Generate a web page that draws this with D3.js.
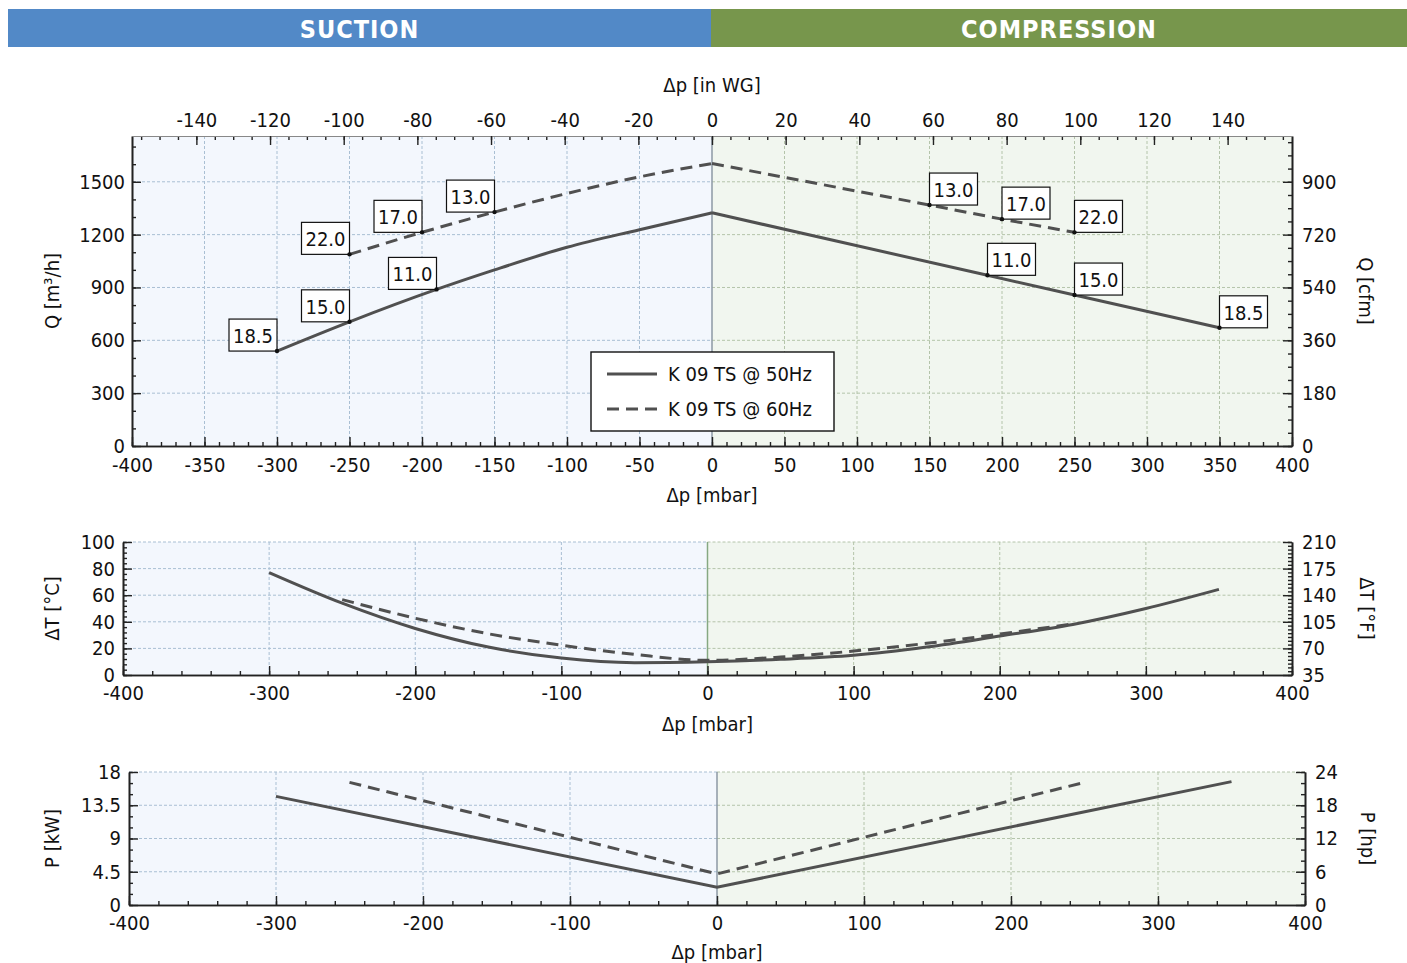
<!DOCTYPE html>
<html>
<head>
<meta charset="utf-8">
<script src="https://cdn.jsdelivr.net/npm/d3@7"></script>
<style>
  body { margin: 0; background: #fff; }
  svg text { font-family: "DejaVu Sans Condensed", "DejaVu Sans", sans-serif; }
</style>
</head>
<body>
<svg id="chart" width="1407" height="963"></svg>
<script>
// ---- data ----
// flow Q [m3/h] vs dp [mbar]
const q50SuctionDp = [-300, -250, -190, -150, -100, -50, 0];
const q50Suction   = [539, 705, 889, 1000, 1128, 1228, 1324];
const q50CompDp    = [0, 190, 250, 350];
const q50Comp      = [1324, 969, 857, 671];
const q60SuctionDp = [-250, -200, -150, -100, -50, 0];
const q60Suction   = [1088, 1213, 1328, 1434, 1528, 1604];
const q60CompDp    = [0, 150, 200, 250];
const q60Comp      = [1604, 1368, 1288, 1213];

// motor size labels [kW]
const motor50Dp = [-300, -250, -190, 190, 250, 350];
const motor50Kw = ["18.5", "15.0", "11.0", "11.0", "15.0", "18.5"];
const motor60Dp = [-250, -200, -150, 150, 200, 250];
const motor60Kw = ["22.0", "17.0", "13.0", "13.0", "17.0", "22.0"];

// temperature rise dT [degC]
const t50Dp = [-300, -250, -200, -150, -100, -50, 0, 50, 100, 150, 200, 250, 300, 350];
const t50   = [77, 54, 35, 21, 12.7, 9.3, 10, 11.8, 14.8, 21, 29.3, 38, 50, 64.4];
const t60Dp = [-250, -200, -150, -100, -50, 0, 50, 100, 150, 200, 250];
const t60   = [56.7, 42.7, 31, 22.4, 15.5, 11, 13.5, 18, 23.8, 30.8, 38.4];

// power P [kW]
const p50Dp = [-300, 0, 350];
const p50   = [14.7, 2.4, 16.7];
const p60Dp = [-250, 0, 250];
const p60   = [16.6, 4.2, 16.6];

const seriesNames = ["K 09 TS @ 50Hz", "K 09 TS @ 60Hz"];
const sideNames = ["SUCTION", "COMPRESSION"];

// unit factors used by the secondary axes
const MBAR_PER_INWG = 2.54;
const CFM_PER_M3H = 0.6;

// ---- styles ----
const BLUE_BG = "#f3f7fd", GREEN_BG = "#f1f6ef";
const BLUE_GRID = "#a9bfd3", GREEN_GRID = "#b4c4aa";
const INK = "#222", LINE = "#505050";
const DASH = "12,7";

const svg = d3.select("#chart");

// header bars
const hx = d3.scaleLinear().domain([0, 1, 2]).range([8, 711, 1407]);
svg.selectAll("rect.hdr").data(sideNames).join("rect")
  .attr("class", "hdr")
  .attr("x", (d, i) => hx(i)).attr("y", 9)
  .attr("width", (d, i) => hx(i + 1) - hx(i)).attr("height", 38)
  .attr("fill", (d, i) => i ? "#77964c" : "#5289c7");
svg.selectAll("text.hdr").data(sideNames).join("text")
  .attr("class", "hdr")
  .attr("x", (d, i) => (hx(i) + hx(i + 1)) / 2).attr("y", 29)
  .attr("text-anchor", "middle").attr("dominant-baseline", "central")
  .attr("fill", "#fff").attr("font-size", 25).attr("font-weight", "bold")
  .attr("letter-spacing", 1)
  .text(d => d);

const range = (a, b, s) => d3.range(a, b + s / 2, s).map(v => +v.toFixed(4));
const fmt = v => String(+v.toFixed(2));

function styleAxis(sel) {
  sel.attr("font-family", null).attr("font-size", 20);
  sel.select(".domain").attr("stroke", INK).attr("stroke-width", 1.6);
  sel.selectAll(".tick line").attr("stroke", INK).attr("stroke-width", 1.4);
  sel.selectAll(".tick text").attr("fill", "#111");
}

function drawPanel(p) {
  const x = d3.scaleLinear().domain([-400, 400]).range([p.left, p.right]);
  const y = d3.scaleLinear().domain(p.yDomain).range([p.bottom, p.top]);
  const y2 = d3.scaleLinear().domain(p.y2Domain).range([p.bottom, p.top]);
  const g = svg.append("g");

  // suction / compression backgrounds
  g.append("rect").attr("x", x(-400)).attr("y", p.top)
    .attr("width", x(0) - x(-400)).attr("height", p.bottom - p.top).attr("fill", BLUE_BG);
  g.append("rect").attr("x", x(0)).attr("y", p.top)
    .attr("width", x(400) - x(0)).attr("height", p.bottom - p.top).attr("fill", GREEN_BG);

  // grid
  const gx = p.xTicks.filter(v => v > -400 && v < 400 && v !== 0);
  g.selectAll("line.gx").data(gx).join("line")
    .attr("x1", d => x(d)).attr("x2", d => x(d))
    .attr("y1", p.top).attr("y2", p.bottom)
    .attr("stroke", d => d < 0 ? BLUE_GRID : GREEN_GRID)
    .attr("stroke-width", 1).attr("stroke-dasharray", "3,2");
  const gy = p.yTicks.filter(v => v > p.yDomain[0]);
  [[-400, 0, BLUE_GRID], [0, 400, GREEN_GRID]].forEach(([a, b, c]) => {
    g.selectAll(null).data(gy).join("line")
      .attr("x1", x(a)).attr("x2", x(b))
      .attr("y1", d => y(d)).attr("y2", d => y(d))
      .attr("stroke", c).attr("stroke-width", 1).attr("stroke-dasharray", "3,2");
  });
  g.append("line").attr("x1", x(0)).attr("x2", x(0))
    .attr("y1", p.top).attr("y2", p.bottom)
    .attr("stroke", p.zeroColor).attr("stroke-width", 1.5);

  // axes: bottom
  const xb = g.append("g").attr("transform", `translate(0,${p.bottom})`)
    .call(d3.axisBottom(x).tickValues(p.xMinor).tickSize(-4).tickSizeOuter(0).tickFormat(""));
  styleAxis(xb);
  const xa = g.append("g").attr("transform", `translate(0,${p.bottom})`)
    .call(d3.axisBottom(x).tickValues(p.xTicks).tickSize(-9).tickSizeOuter(0)
      .tickPadding(p.xPad).tickFormat(fmt));
  styleAxis(xa);

  // left
  const yl0 = g.append("g").attr("transform", `translate(${p.left},0)`)
    .call(d3.axisLeft(y).tickValues(p.yMinor).tickSize(-4).tickSizeOuter(0).tickFormat(""));
  styleAxis(yl0);
  const yl = g.append("g").attr("transform", `translate(${p.left},0)`)
    .call(d3.axisLeft(y).tickValues(p.yTicks).tickSize(-9).tickSizeOuter(0)
      .tickPadding(p.yPad).tickFormat(fmt));
  styleAxis(yl);

  // right
  const yr0 = g.append("g").attr("transform", `translate(${p.right},0)`)
    .call(d3.axisRight(y2).tickValues(p.y2Minor).tickSize(-4).tickSizeOuter(0).tickFormat(""));
  styleAxis(yr0);
  const yr = g.append("g").attr("transform", `translate(${p.right},0)`)
    .call(d3.axisRight(y2).tickValues(p.y2Ticks).tickSize(-9).tickSizeOuter(0)
      .tickPadding(p.y2Pad).tickFormat(fmt));
  styleAxis(yr);

  // titles
  g.append("text").attr("x", (p.left + p.right) / 2).attr("y", p.xTitleY)
    .attr("text-anchor", "middle").attr("dominant-baseline", "central")
    .attr("font-size", 20).attr("fill", "#111").text("Δp [mbar]");
  const cy = (p.top + p.bottom) / 2;
  g.append("text").attr("transform", `translate(52,${cy}) rotate(-90)`)
    .attr("text-anchor", "middle").attr("dominant-baseline", "central")
    .attr("font-size", 20).attr("fill", "#111").text(p.yTitle);
  g.append("text").attr("transform", `translate(${p.y2TitleX},${cy}) rotate(90)`)
    .attr("text-anchor", "middle").attr("dominant-baseline", "central")
    .attr("font-size", 20).attr("fill", "#111").text(p.y2Title);

  return { x, y, g };
}

function drawLine(pn, dp, vals, dashed, curve) {
  const pts = dp.map((d, i) => [d, vals[i]]);
  pn.g.append("path").datum(pts)
    .attr("fill", "none").attr("stroke", LINE).attr("stroke-width", 3)
    .attr("stroke-dasharray", dashed ? DASH : null)
    .attr("d", d3.line().x(d => pn.x(d[0])).y(d => pn.y(d[1])).curve(curve || d3.curveMonotoneX));
}

// ---------- panel 1: flow ----------
const flowP = drawPanel({
  left: 132, right: 1292, top: 136, bottom: 446,
  yDomain: [0, 1760], y2Domain: [0, 1760 * CFM_PER_M3H],
  xTicks: range(-400, 400, 50), xMinor: range(-400, 400, 10),
  yTicks: range(0, 1500, 300), yMinor: range(0, 1700, 100),
  y2Ticks: range(0, 900, 180), y2Minor: range(0, 1035, 45),
  xPad: 12, yPad: 7, y2Pad: 10,
  xTitleY: 495, yTitle: "Q [m³/h]", y2Title: "Q [cfm]", y2TitleX: 1366,
  zeroColor: "#8c99a4"
});
// top axis in inches of water gauge
const xw = d3.scaleLinear().domain([-400 / MBAR_PER_INWG, 400 / MBAR_PER_INWG]).range([132, 1292]);
const xt0 = flowP.g.append("g").attr("transform", "translate(0,136)")
  .call(d3.axisTop(xw).tickValues(range(-155, 155, 5)).tickSize(-4).tickSizeOuter(0).tickFormat(""));
styleAxis(xt0);
xt0.select(".domain").attr("stroke", "#888").attr("stroke-width", 1);
const xt = flowP.g.append("g").attr("transform", "translate(0,136)")
  .call(d3.axisTop(xw).tickValues(range(-140, 140, 20)).tickSize(-9).tickSizeOuter(0).tickPadding(9).tickFormat(fmt));
styleAxis(xt);
xt.select(".domain").attr("stroke", "#888").attr("stroke-width", 1);
flowP.g.append("text").attr("x", 712).attr("y", 85)
  .attr("text-anchor", "middle").attr("dominant-baseline", "central")
  .attr("font-size", 20).attr("fill", "#111").text("Δp [in WG]");

drawLine(flowP, q50SuctionDp, q50Suction, false);
drawLine(flowP, q50CompDp, q50Comp, false, d3.curveLinear);
drawLine(flowP, q60SuctionDp, q60Suction, true);
drawLine(flowP, q60CompDp, q60Comp, true, d3.curveLinear);

// motor labels
function qAt(dpArr1, v1, dpArr2, v2, dp) {
  const all = dpArr1.map((d, i) => [d, v1[i]]).concat(dpArr2.map((d, i) => [d, v2[i]]));
  return all.find(e => e[0] === dp)[1];
}
const labels = motor50Dp.map((d, i) => ({ dp: d, q: qAt(q50SuctionDp, q50Suction, q50CompDp, q50Comp, d), t: motor50Kw[i] }))
  .concat(motor60Dp.map((d, i) => ({ dp: d, q: qAt(q60SuctionDp, q60Suction, q60CompDp, q60Comp, d), t: motor60Kw[i] })));
const BW = 48, BH = 32;
const lab = flowP.g.selectAll("g.lab").data(labels).join("g").attr("class", "lab")
  .attr("transform", d => `translate(${flowP.x(d.dp) - (d.dp < 0 ? BW : 0)},${flowP.y(d.q) - BH})`);
lab.append("rect").attr("width", BW).attr("height", BH)
  .attr("fill", "#fff").attr("stroke", "#111").attr("stroke-width", 1.2);
lab.append("text").attr("x", BW / 2).attr("y", BH / 2 + 1)
  .attr("text-anchor", "middle").attr("dominant-baseline", "central")
  .attr("font-size", 20).attr("fill", "#111").text(d => d.t);
flowP.g.selectAll("circle.pt").data(labels).join("circle").attr("class", "pt")
  .attr("cx", d => flowP.x(d.dp)).attr("cy", d => flowP.y(d.q)).attr("r", 2.2).attr("fill", "#111");

// legend
const lg = flowP.g.append("g").attr("transform", "translate(591,352)");
lg.append("rect").attr("width", 243).attr("height", 79)
  .attr("fill", "#fff").attr("stroke", "#111").attr("stroke-width", 1.4);
lg.selectAll("line").data(seriesNames).join("line")
  .attr("x1", 16).attr("x2", 66)
  .attr("y1", (d, i) => 22 + i * 35).attr("y2", (d, i) => 22 + i * 35)
  .attr("stroke", LINE).attr("stroke-width", 3)
  .attr("stroke-dasharray", (d, i) => i ? DASH : null);
lg.selectAll("text").data(seriesNames).join("text")
  .attr("x", 77).attr("y", (d, i) => 22 + i * 35)
  .attr("dominant-baseline", "central").attr("font-size", 20).attr("fill", "#111")
  .text(d => d);

// ---------- panel 2: temperature ----------
const tempP = drawPanel({
  left: 123, right: 1292, top: 542, bottom: 675,
  yDomain: [0, 100], y2Domain: [35, 210],
  xTicks: range(-400, 400, 100), xMinor: range(-400, 400, 20),
  yTicks: range(0, 100, 20), yMinor: range(0, 100, 4),
  y2Ticks: range(35, 210, 35), y2Minor: range(35, 210, 5),
  xPad: 11, yPad: 8, y2Pad: 10,
  xTitleY: 724, yTitle: "ΔT [°C]", y2Title: "ΔT [°F]", y2TitleX: 1367,
  zeroColor: "#86a882"
});
drawLine(tempP, t50Dp, t50, false);
drawLine(tempP, t60Dp, t60, true);

// ---------- panel 3: power ----------
const powP = drawPanel({
  left: 129, right: 1305, top: 772, bottom: 905,
  yDomain: [0, 18], y2Domain: [0, 24],
  xTicks: range(-400, 400, 100), xMinor: range(-400, 400, 20),
  yTicks: range(0, 18, 4.5), yMinor: range(0, 18, 1.5),
  y2Ticks: range(0, 24, 6), y2Minor: range(0, 24, 2),
  xPad: 11, yPad: 8, y2Pad: 10,
  xTitleY: 952, yTitle: "P [kW]", y2Title: "P [hp]", y2TitleX: 1368,
  zeroColor: "#8c99a4"
});
drawLine(powP, p50Dp, p50, false, d3.curveLinear);
drawLine(powP, p60Dp, p60, true, d3.curveLinear);
</script>
</body>
</html>
